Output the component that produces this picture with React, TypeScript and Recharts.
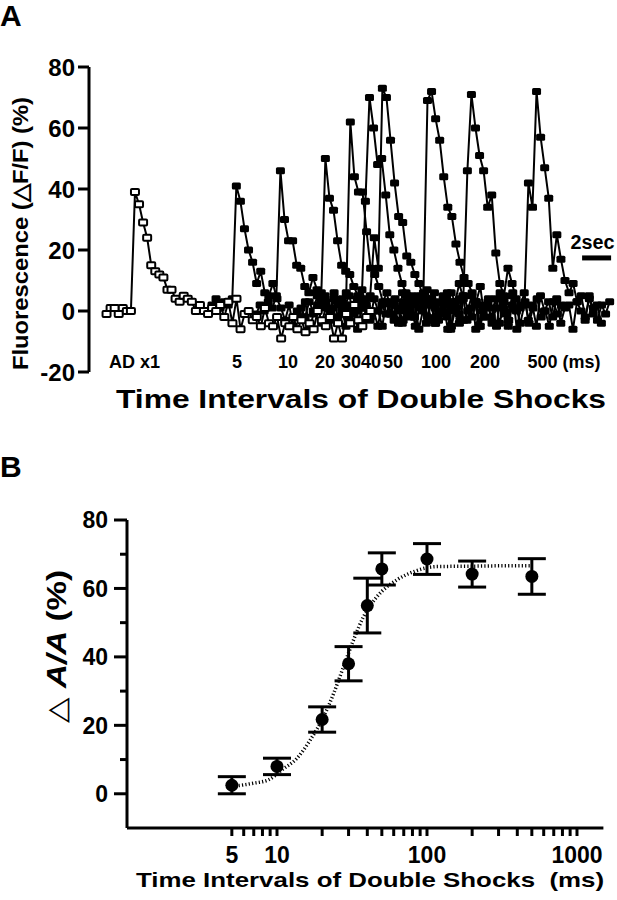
import React from 'react';
import {
  LineChart, Line, XAxis, YAxis, ComposedChart, Scatter, ErrorBar, ReferenceLine, Label,
} from 'recharts';

// ---- Panel A: fluorescence traces (sampled every SAMPLE_SEC seconds) ----
const SAMPLE_SEC = 0.28;

const stimLabels = ['AD x1', '5', '10', '20', '30', '40', '50', '100', '200', '500 (ms)'];
const stimLabelTimes = [3.14, 10.21, 13.72, 16.28, 18.07, 19.45, 20.97, 23.93, 27.31, 32.76];

const adStart = 1.21;
const adTrace = [
  -1, 1, 1, -1, 1, 0, 0, 39, 35, 29, 24, 15, 13, 12, 11, 7, 7, 4, 3, 5,
  4, 3, 0, 2, 0, -1, 1, 0, 2, -2, 3, -4, 4, -6, -1, 0, -3, -2, -5, 1,
  -4, -5, -2, -9, -4, -5, -2, -6, -3, -7, -4, -6, 0, -3, -5, -2, -9, -4, -9, -1,
  -4, 2, -3, -5, -2, 0,
];

const shockStarts = [8.48, 11.52, 14.62, 16.34, 17.66, 18.55, 21.66, 24.69, 28.62];
const shock5 = [
  2, 4, 1, 3, 2, 4, 41, 36, 27, 20, 16, 9, 13, 6, 5, 9, 4, 1, -3, 2,
  -5, 0, -2, 3, -6, -1, 2, -4, 1, -3, 4, -2, 0, -5, 2, -1, 3, -4, 1, -2,
];
const shock10 = [
  -1, 2, 0, 3, 1, 5, 46, 30, 23, 23, 15, 14, 8, 6, 11, 7, 3, 5, -2, 1,
  -4, 3, 0, -3, 2, -6, 1, 4, -2, 0, -5, 2, -1, 3, -3, 1, -4, 2, 0, -2,
];
const shock20 = [
  1, -2, 3, 0, 5, 6, 50, 37, 33, 23, 15, 13, 12, 8, 5, 7, 2, -3, 4, 0,
  -5, 3, -1, 2, -4, 6, 1, -2, 3, -6, 0, 4, -3, 1, -1, 5, -2, 0, 3, -4,
];
const shock30 = [
  3, 0, 6, 2, 4, 6, 62, 44, 39, 39, 26, 14, 12, 8, 3, 6, -1, 4, 0, -3,
  5, 2, -5, 1, 3, -2, 4, -4, 0, 2, -6, 3, 1, -3, 5, 0, -2, 3, -5, 1,
];
const shock40 = [
  2, 5, 0, 4, 1, 36, 70, 60, 48, 50, 38, 25, 20, 14, 9, 6, 3, -2, 5, 1,
  -4, 2, 6, -3, 0, 4, -6, 2, -1, 5, -3, 1, 3, -5, 0, 2, -2, 4, -4, 1,
];
const shock50 = [
  0, 3, 2, 5, 24, 14, 73, 70, 56, 42, 31, 29, 18, 16, 12, 9, 5, 7, 2, -4,
  3, -1, 6, -5, 1, 4, -3, 0, 5, -6, 2, -2, 3, -4, 1, 6, -1, -5, 2, 0,
];
const shock100 = [
  3, -1, 5, 2, 4, 6, 69, 72, 63, 56, 44, 34, 31, 22, 16, 11, 9, 6, 3, 8,
  -2, 4, 1, -5, 5, 0, -3, 6, -6, 2, 3, -4, 1, 4, -2, 0, -5, 3, -1, 2,
];
const shock200 = [
  2, 6, 3, 9, 4, 46, 71, 60, 51, 46, 34, 38, 19, 9, 5, 14, 9, 4, 1, 6,
  -3, 2, -5, 5, 0, 3, -2, 4, -4, 1, 2, -6, 3, 0, -3, 5, -1, 2, -4,
];
const shock500 = [
  3, -3, 5, 1, -4, 2, 42, 34, 72, 57, 47, 37, 14, 25, 17, 10, 6, 9, 3, 5,
  -2, 4, 1, -3, 2, -1, 3,
];
const shockTraces = [shock5, shock10, shock20, shock30, shock40, shock50, shock100, shock200, shock500];

// ---- Panel B: amplitude vs interval ----
const intervalsMs = [5, 10, 20, 30, 40, 50, 100, 200, 500];
const meanPct = [2.5, 8, 21.7, 38, 55, 65.7, 68.6, 64.2, 63.5];
const semPct = [2.5, 2.4, 3.7, 5, 8, 4.7, 4.5, 3.8, 5.2];

const fitMs = [5, 6, 7, 8.8, 10.8, 13.6, 16.7, 20.5, 23.9, 27.8, 32.4, 37.8, 46.4, 63, 81.5, 116.6, 200, 300, 500];
const fitPct = [2.2, 2.6, 3.1, 4.1, 7, 10.4, 15.8, 22.6, 29.4, 37.2, 45, 51.8, 57.6, 62.5, 64.9, 66.4, 66.5, 66.6, 66.6];

const bXTicks = [5, 6, 7, 8, 9, 10, 20, 30, 40, 50, 60, 70, 80, 90, 100, 200, 300, 400, 500, 600, 700, 800, 900, 1000];
const bXLabelled = [5, 10, 100, 1000];

const toPoints = (start: number, vals: number[]) =>
  vals.map((v, i) => ({ t: +(start + i * SAMPLE_SEC).toFixed(3), v }));

const adPoints = toPoints(adStart, adTrace);
const shockPoints = shockTraces.map((vals, i) => toPoints(shockStarts[i], vals));
const bPoints = intervalsMs.map((ms, i) => ({ ms, v: meanPct[i], err: semPct[i] }));
const fitPoints = fitMs.map((ms, i) => ({ ms, v: fitPct[i] }));

const ARIAL = 'Liberation Sans, Arial, sans-serif';

const filledSquare = (p: any) => (
  <rect key={`f${p.index}`} x={p.cx - 4.5} y={p.cy - 3.5} width={9} height={7} rx={1.5} fill="#000" />
);
const openSquare = (p: any) => (
  <rect key={`o${p.index}`} x={p.cx - 4} y={p.cy - 3} width={8} height={6} rx={1}
    fill="#fff" stroke="#000" strokeWidth={2} />
);

const StimTick = (p: any) => (
  <text x={p.x} y={p.y - 4} textAnchor="middle" fontFamily={ARIAL} fontWeight="bold" fontSize={18} fill="#000">
    {stimLabels[p.index]}
  </text>
);

const BYTick = (p: any) => {
  const major = p.payload.value % 20 === 0;
  return (
    <g>
      <line x1={p.x} x2={p.x - (major ? 13 : 7)} y1={p.y} y2={p.y} stroke="#000" strokeWidth={3} />
      {major && (
        <text x={p.x - 19} y={p.y} dy="0.36em" textAnchor="end" fontFamily={ARIAL} fontWeight="bold" fontSize={23} fill="#000">
          {p.payload.value}
        </text>
      )}
    </g>
  );
};

const BXTick = (p: any) => {
  const v = p.payload.value;
  return (
    <g>
      <line x1={p.x} x2={p.x} y1={p.y} y2={p.y + 8} stroke="#000" strokeWidth={3} />
      {bXLabelled.includes(v) && (
        <text x={p.x} y={p.y + 35} textAnchor="middle" fontFamily={ARIAL} fontWeight="bold" fontSize={23} fill="#000">
          {v}
        </text>
      )}
    </g>
  );
};

const ScaleBarLabel = (p: any) => {
  const vb = p.viewBox || {};
  const cx = (vb.x ?? 583) + (vb.width ?? 29) / 2 - 4;
  const top = Math.min(vb.y ?? 259, (vb.y ?? 259) + (vb.height ?? 0));
  return (
    <text x={cx} y={top - 9} textAnchor="middle" textLength={44} lengthAdjust="spacingAndGlyphs"
      fontFamily={ARIAL} fontWeight="bold" fontSize={20} fill="#000">2sec</text>
  );
};

const PanelA = () => (
  <LineChart width={617} height={450} margin={{ top: 67, right: 3, bottom: 77, left: 9 }}>
    <XAxis dataKey="t" type="number" domain={[0, 36.2]} ticks={stimLabelTimes} interval={0}
      axisLine={false} tickLine={false} tickSize={0} tickMargin={0} height={1} tick={StimTick}>
      <Label content={() => (
        <text x={361} y={408} textAnchor="middle" textLength={490} lengthAdjust="spacingAndGlyphs"
          fontFamily={ARIAL} fontWeight="bold" fontSize={26} fill="#000">Time Intervals of Double Shocks</text>
      )} />
    </XAxis>
    <YAxis dataKey="v" type="number" domain={[-20, 80]} ticks={[-20, 0, 20, 40, 60, 80]} width={80}
      axisLine={{ stroke: '#000', strokeWidth: 3 }} tickLine={{ stroke: '#000', strokeWidth: 3 }}
      tickSize={11} tickMargin={3}
      tick={{ fill: '#000', fontFamily: ARIAL, fontWeight: 'bold', fontSize: 24 }}>
      <Label content={() => (
        <text transform="translate(28,233.5) rotate(-90)" textAnchor="middle" textLength={273}
          lengthAdjust="spacingAndGlyphs" fontFamily={ARIAL} fontWeight="bold" fontSize={22} fill="#000">
          Fluorescence (△F/F) (%)
        </text>
      )} />
    </YAxis>
    {shockPoints.map((pts, i) => (
      <Line key={`s${i}`} data={pts} dataKey="v" type="linear" stroke="#000" strokeWidth={2}
        dot={filledSquare} activeDot={false} isAnimationActive={false} />
    ))}
    <Line data={adPoints} dataKey="v" type="linear" stroke="#000" strokeWidth={2}
      dot={openSquare} activeDot={false} isAnimationActive={false} />
    <ReferenceLine segment={[{ x: 34.0, y: 17.4 }, { x: 36.0, y: 17.4 }]} stroke="#000" strokeWidth={5} ifOverflow="visible">
      <Label content={ScaleBarLabel} />
    </ReferenceLine>
  </LineChart>
);

const PanelB = () => (
  <ComposedChart width={617} height={450} margin={{ top: 70, right: 13.6, bottom: 71, left: 7 }}>
    <XAxis dataKey="ms" type="number" scale="log" domain={[1, 1500]} allowDataOverflow ticks={bXTicks} interval={0}
      axisLine={{ stroke: '#000', strokeWidth: 3 }} tickLine={false} tickSize={0} tickMargin={0} height={1} tick={BXTick}>
      <Label content={() => (
        <text x={370} y={437} textAnchor="middle" textLength={468}
          lengthAdjust="spacingAndGlyphs" fontFamily={ARIAL} fontWeight="bold" fontSize={20.5} fill="#000"
          style={{ whiteSpace: 'pre' }}>
          {'Time Intervals of Double Shocks  (ms)'}
        </text>
      )} />
    </XAxis>
    <YAxis dataKey="v" type="number" domain={[-10, 80]} ticks={[0, 10, 20, 30, 40, 50, 60, 70, 80]} interval={0}
      width={120} axisLine={{ stroke: '#000', strokeWidth: 3 }} tickLine={false} tickSize={0} tickMargin={0} tick={BYTick}>
      <Label content={() => (
        <text transform="translate(66,196.5) rotate(-90)" textAnchor="middle" textLength={153}
          lengthAdjust="spacingAndGlyphs" fontFamily={ARIAL} fontWeight="bold" fontSize={27} fill="#000">
          <tspan fontWeight="normal">△</tspan> <tspan fontStyle="italic">A/A</tspan> (%)
        </text>
      )} />
    </YAxis>
    <Line data={fitPoints} dataKey="v" type="monotone" stroke="#000" strokeWidth={3.5} strokeDasharray="1.2 2.2"
      dot={false} activeDot={false} isAnimationActive={false} />
    <Scatter data={bPoints} dataKey="v" fill="#000" isAnimationActive={false}
      shape={(p: any) => <circle cx={p.cx} cy={p.cy} r={6.5} fill="#000" />}>
      <ErrorBar dataKey="err" direction="y" width={14} strokeWidth={3} stroke="#000" isAnimationActive={false} />
    </Scatter>
  </ComposedChart>
);

export default function App() {
  const letter: React.CSSProperties = {
    position: 'absolute', left: 0, fontFamily: ARIAL, fontWeight: 'bold', fontSize: 30, lineHeight: '30px', color: '#000',
  };
  return (
    <div style={{ position: 'absolute', left: 0, top: 0, width: 617, height: 900, background: '#fff', overflow: 'hidden' }}>
      <div style={{ ...letter, top: 1 }}>A</div>
      <div style={{ ...letter, top: 452 }}>B</div>
      <div style={{ position: 'absolute', left: 0, top: 0 }}><PanelA /></div>
      <div style={{ position: 'absolute', left: 0, top: 450 }}><PanelB /></div>
    </div>
  );
}
